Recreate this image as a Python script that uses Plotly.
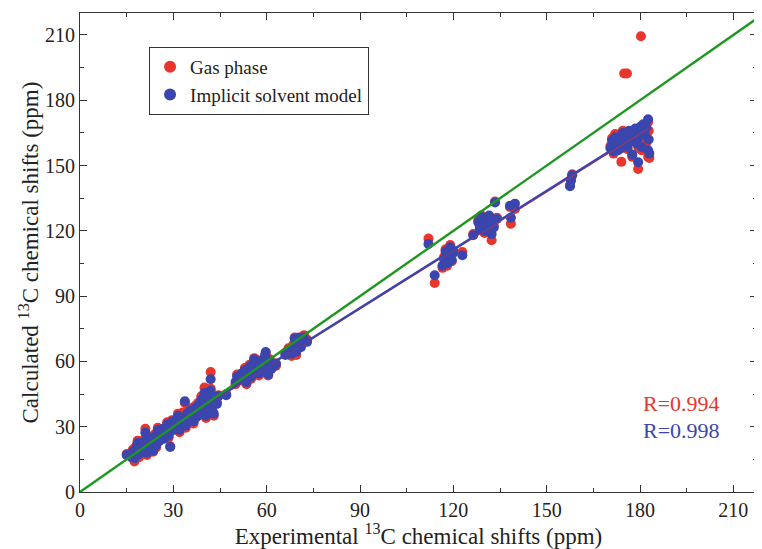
import plotly.graph_objects as go

# Experimental 13C shifts (ppm) and calculated values
exp_shift = [
    15.0, 16.5, 17.0, 17.5, 18.0, 18.5, 19.0, 19.5, 20.0, 20.5, 21.0, 21.5, 22.0, 22.5, 23.0,
    23.5, 24.0, 24.5, 25.0, 25.5, 26.0, 26.5, 27.0, 27.5, 28.0, 28.5, 29.0, 29.5, 30.0, 30.5,
    31.0, 31.5, 32.0, 32.5, 33.0, 33.7, 34.0, 34.5, 35.0, 35.5, 36.0, 36.5, 37.0, 37.5, 38.0,
    38.5, 39.0, 39.5, 40.0, 40.5, 41.0, 41.5, 42.0, 42.0, 42.5, 43.0, 43.0, 44.0, 44.5, 47.0,
    50.0, 50.5, 51.0, 52.0, 52.5, 53.0, 53.5, 54.0, 54.5, 55.0, 55.5, 56.0, 56.5, 57.0, 57.5,
    58.0, 58.5, 59.0, 59.5, 59.7, 60.0, 60.5, 61.0, 61.5, 62.5, 63.0,
    66.0, 67.0, 68.0, 68.5, 69.0, 69.5, 70.0, 70.5, 71.0, 71.5, 72.0, 73.0,
    112.0, 114.0, 116.5, 117.0, 117.5, 118.0, 118.5, 119.0, 119.5, 120.0, 122.9, 126.4,
    128.0, 128.5, 129.0, 129.5, 130.0, 130.5, 131.0, 131.5, 132.0, 132.3, 133.0, 133.4, 134.0,
    138.2, 138.5, 139.8,
    157.5, 157.8, 158.2,
    170.5, 171.0, 171.5, 172.0, 172.5, 173.0, 173.5, 174.0, 174.5, 175.0, 174.9, 175.8,
    175.5, 176.0, 176.5, 177.0, 177.5, 178.0, 178.5, 179.0, 179.4, 179.5, 180.0, 180.3,
    180.5, 181.0, 181.5, 182.0, 182.6, 182.6, 182.8, 183.0,
]

solvent_calc = [
    17.0, 16.0, 18.5, 15.5, 20.0, 22.5, 17.5, 19.0, 21.0, 23.0, 27.3, 18.0, 20.5, 24.0, 22.0,
    19.0, 25.5, 21.5, 28.5, 23.5, 26.0, 29.0, 24.5, 27.5, 31.0, 26.0, 20.7, 32.0, 28.5, 33.0,
    30.0, 35.0, 28.5, 32.5, 34.0, 41.7, 30.5, 36.0, 33.5, 37.5, 35.0, 32.5, 38.5, 34.5, 40.0,
    36.5, 42.5, 38.0, 45.5, 35.0, 43.0, 40.0, 51.8, 46.5, 38.5, 42.0, 36.0, 40.5, 44.0, 44.5,
    50.5, 53.0, 51.5, 54.5, 52.0, 56.0, 50.5, 55.0, 57.5, 53.0, 58.5, 61.0, 55.5, 59.5, 54.5,
    57.0, 60.5, 56.0, 63.0, 64.3, 58.5, 54.0, 60.0, 56.5, 58.0, 59.0,
    63.0, 65.0, 63.5, 66.5, 70.5, 64.5, 68.0, 71.0, 66.5, 69.5, 71.0, 69.0,
    114.0, 99.6, 104.0, 107.0, 110.5, 105.0, 108.5, 112.5, 106.5, 110.0, 108.8, 118.0,
    124.0, 121.0, 126.5, 123.0, 120.0, 125.0, 122.5, 127.0, 124.0, 118.5, 121.5, 133.0, 125.5,
    131.5, 126.0, 132.5,
    140.5, 143.0, 145.5,
    158.0, 161.5, 156.5, 163.0, 159.5, 157.0, 162.0, 158.0, 165.0, 160.5, 163.5, 161.0,
    163.5, 158.5, 166.0, 161.0, 155.0, 164.0, 167.0, 160.0, 151.5, 163.0, 166.5, 168.0,
    158.5, 169.0, 164.5, 167.5, 171.3, 157.0, 162.0, 155.5,
]

gas_calc = [
    17.5, 17.0, 19.5, 14.0, 21.0, 23.5, 16.0, 20.0, 22.0, 24.0, 29.1, 17.0, 21.5, 25.0, 23.0,
    18.5, 26.5, 20.5, 29.5, 24.5, 27.0, 28.0, 25.5, 28.5, 32.0, 25.0, 21.0, 33.0, 29.5, 32.0,
    31.0, 36.0, 27.5, 33.5, 36.5, 41.0, 29.5, 37.5, 33.0, 38.5, 36.0, 31.5, 39.5, 35.5, 41.0,
    35.5, 44.0, 39.0, 48.0, 34.0, 44.0, 41.0, 55.1, 47.5, 37.5, 43.0, 35.0, 41.0, 44.5, 45.0,
    49.5, 54.0, 52.5, 53.5, 51.0, 57.0, 49.5, 54.0, 58.5, 52.0, 59.0, 61.5, 56.5, 60.5, 53.5,
    58.0, 59.5, 55.0, 62.0, 63.5, 59.5, 53.5, 61.0, 57.5, 59.0, 58.0,
    64.0, 66.0, 62.5, 67.5, 71.0, 63.0, 69.0, 70.0, 67.5, 70.5, 72.0, 70.0,
    116.5, 96.0, 103.0, 108.0, 111.5, 104.0, 109.5, 113.5, 106.0, 111.0, 110.3, 118.5,
    125.0, 122.0, 127.0, 124.0, 119.0, 126.0, 121.5, 126.5, 125.0, 115.7, 122.5, 133.5, 126.0,
    131.0, 123.3, 130.0,
    141.0, 143.5, 146.0,
    159.0, 162.5, 155.5, 164.5, 160.5, 158.0, 163.5, 151.7, 166.0, 161.5, 192.3, 192.3,
    164.5, 157.5, 165.0, 162.0, 154.0, 165.0, 166.0, 161.0, 148.4, 158.0, 165.5, 209.4,
    157.0, 168.0, 163.0, 160.5, 170.0, 154.0, 166.0, 153.5,
]

# Linear fits (slope, intercept) and fitted range
gas_fit = (0.896, 3.7)
solvent_fit = (0.898, 3.7)
fit_range = [15.0, 182.6]
ideal_range = [0.0, 220.0]

series_names = ["Gas phase", "Implicit solvent model"]
r_labels = ["R=0.994", "R=0.998"]

RED = "#e8362c"
BLUE = "#3a46ad"
GREEN = "#1f961f"
FONT = "Liberation Serif, Times New Roman, serif"

fig = go.Figure()
fig.add_trace(go.Scatter(x=exp_shift, y=gas_calc, mode="markers", name=series_names[0],
                         marker=dict(color=RED, size=10, line=dict(width=0))))
fig.add_trace(go.Scatter(x=exp_shift, y=solvent_calc, mode="markers", name=series_names[1],
                         marker=dict(color=BLUE, size=10, line=dict(width=0))))

fig.add_trace(go.Scatter(x=fit_range, y=[gas_fit[0] * v + gas_fit[1] for v in fit_range],
                         mode="lines", line=dict(color=RED, width=2), showlegend=False))
fig.add_trace(go.Scatter(x=fit_range, y=[solvent_fit[0] * v + solvent_fit[1] for v in fit_range],
                         mode="lines", line=dict(color=BLUE, width=2.4), showlegend=False))
fig.add_trace(go.Scatter(x=ideal_range, y=ideal_range, mode="lines",
                         line=dict(color=GREEN, width=2.4), showlegend=False))

axis_common = dict(
    showgrid=False, zeroline=False, showline=True, linecolor="#333", linewidth=1.2,
    mirror="ticks", ticks="inside", ticklen=7, tickwidth=1.2, tickcolor="#333",
    tickfont=dict(family=FONT, size=20, color="#222"), automargin=False,
    minor=dict(ticks="inside", ticklen=4, tickwidth=1, tickcolor="#333", dtick=15),
)

# The page body adds an 8px offset; the figure is sized to compensate.
fig.update_layout(
    width=754, height=541,
    margin=dict(l=72, r=5, t=5, b=57),
    paper_bgcolor="white", plot_bgcolor="white",
    font=dict(family=FONT, color="#222"),
    xaxis=dict(range=[0, 217.6], tick0=0, dtick=30,
               title=dict(text="Experimental <sup>13</sup>C chemical shifts (ppm)",
                          font=dict(family=FONT, size=23, color="#222")),
               **axis_common),
    yaxis=dict(range=[0, 220.1], tick0=0, dtick=30, **axis_common),
    legend=dict(x=0.102, y=0.929, xanchor="left", yanchor="top",
                bordercolor="#333", borderwidth=1, bgcolor="white",
                font=dict(family=FONT, size=19, color="#222"),
                itemsizing="constant", tracegroupgap=0),
    showlegend=True,
)

fig.add_annotation(text="Calculated <sup>13</sup>C chemical shifts (ppm)",
                   x=0, y=0.5, xref="paper", yref="paper", xshift=-51,
                   xanchor="center", yanchor="middle", textangle=-90, showarrow=False,
                   font=dict(family=FONT, size=23, color="#222"))
fig.add_annotation(text=r_labels[0], x=0.888, y=0.185, xref="paper", yref="paper",
                   xanchor="center", yanchor="middle", showarrow=False,
                   font=dict(family=FONT, size=22, color=RED))
fig.add_annotation(text=r_labels[1], x=0.888, y=0.128, xref="paper", yref="paper",
                   xanchor="center", yanchor="middle", showarrow=False,
                   font=dict(family=FONT, size=22, color=BLUE))

fig.write_html("out.html")
